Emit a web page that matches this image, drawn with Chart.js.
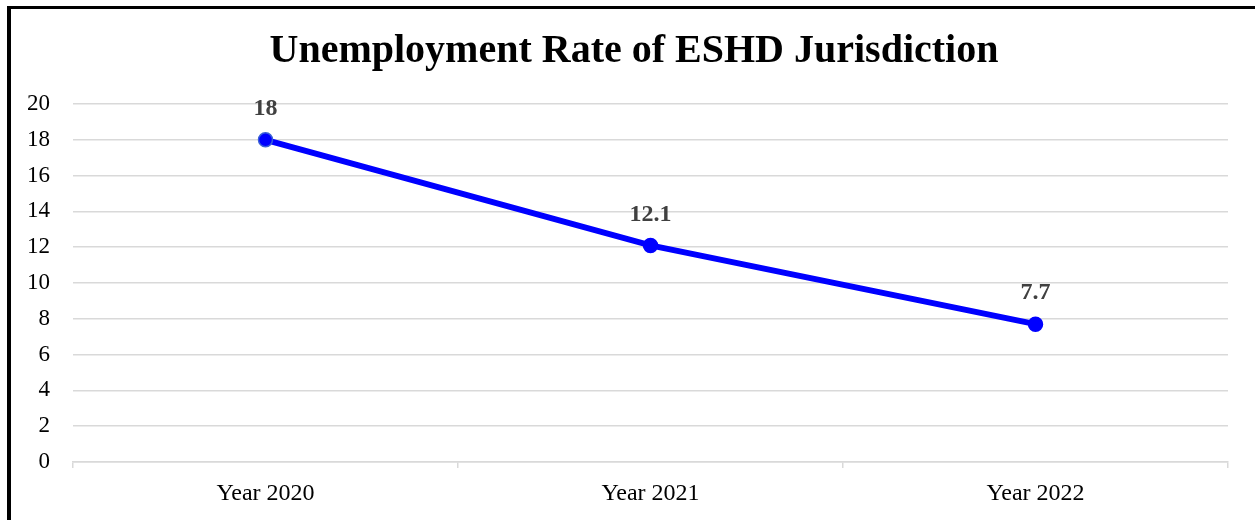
<!DOCTYPE html>
<html>
<head>
<meta charset="utf-8">
<script src="https://cdn.jsdelivr.net/npm/chart.js@4/dist/chart.umd.min.js"></script>
<style>
  html, body { margin: 0; padding: 0; background: #fff; }
  #wrap { position: relative; width: 1255px; height: 520px; }
  #frame {
    position: absolute; left: 7px; top: 6px; right: 0; bottom: 0;
    border-left: 4px solid #000; border-top: 3px solid #000;
  }
  #chart { position: absolute; left: 0; top: 0; }
</style>
</head>
<body>
<div id="wrap">
  <div id="frame"></div>
  <canvas id="chart" width="1255" height="520"></canvas>
</div>
<script>
const chartTitle = 'Unemployment Rate of ESHD Jurisdiction';
const years = ['Year 2020', 'Year 2021', 'Year 2022'];
const unemploymentRate = [18, 12.1, 7.7];
const yTicks = [0, 2, 4, 6, 8, 10, 12, 14, 16, 18, 20];

const SERIF = '"Liberation Serif", "DejaVu Serif", serif';

// heading, centred on the whole canvas rather than the chart box
const heading = {
  id: 'heading',
  afterDraw(chart) {
    const { ctx } = chart;
    ctx.save();
    ctx.font = 'bold 40px ' + SERIF;
    ctx.fillStyle = '#000';
    ctx.textAlign = 'center';
    ctx.textBaseline = 'alphabetic';
    ctx.fillText(chartTitle, 634, 62);
    ctx.restore();
  },
};

// value labels above each point
const pointLabels = {
  id: 'pointLabels',
  afterDatasetsDraw(chart) {
    const { ctx } = chart;
    const meta = chart.getDatasetMeta(0);
    ctx.save();
    ctx.font = 'bold 24px ' + SERIF;
    ctx.fillStyle = '#404040';
    ctx.textAlign = 'center';
    ctx.textBaseline = 'middle';
    meta.data.forEach((pt, i) => {
      ctx.fillText(String(unemploymentRate[i]), pt.x, pt.y - 31);
    });
    ctx.restore();
  },
};

new Chart(document.getElementById('chart').getContext('2d'), {
  type: 'line',
  data: {
    labels: years,
    datasets: [
      {
        label: 'Unemployment Rate',
        data: unemploymentRate,
        borderColor: '#0000ff',
        borderWidth: 6,
        backgroundColor: '#0000ff',
        pointBackgroundColor: '#0000ff',
        pointBorderColor: ['#3a5fd8', '#0000ff', '#0000ff'],
        pointBorderWidth: 1.5,
        pointRadius: 7,
        tension: 0,
      },
    ],
  },
  options: {
    responsive: false,
    animation: false,
    layout: { padding: { left: 0, right: 27, top: 104, bottom: 0 } },
    plugins: {
      legend: { display: false },
      tooltip: { enabled: false },
      title: { display: false },
    },
    scales: {
      x: {
        offset: true,
        afterFit: (s) => { s.height = 58; },
        border: { display: true, color: '#d9d9d9', width: 1.5 },
        grid: {
          offset: true,
          drawOnChartArea: false,
          drawTicks: true,
          tickLength: 6,
          color: '#d9d9d9',
          lineWidth: 1.5,
        },
        ticks: {
          color: '#000',
          padding: 11,
          font: { family: SERIF, size: 24 },
        },
      },
      y: {
        min: 0,
        max: 20,
        afterFit: (s) => { s.width = 73; },
        afterBuildTicks: (s) => { s.ticks = yTicks.map((v) => ({ value: v })); },
        border: { display: false },
        grid: { color: '#d9d9d9', lineWidth: 1.5, drawTicks: false },
        ticks: {
          color: '#000',
          padding: 23,
          font: { family: SERIF, size: 23 },
        },
      },
    },
  },
  plugins: [pointLabels, heading],
});
</script>
</body>
</html>
